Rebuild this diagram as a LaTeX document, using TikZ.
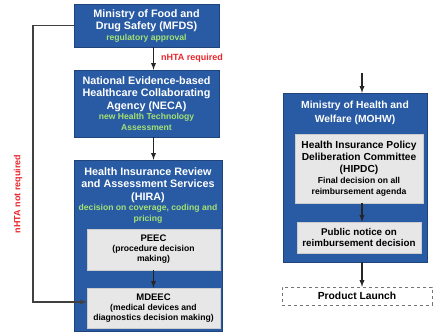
\documentclass[tikz,border=0pt]{standalone}
\usepackage{fontspec}
\setmainfont{Liberation Sans}
\usepackage{tikz}
\usepackage{color}
\definecolor{boxblue}{RGB}{40,91,164}
\definecolor{boxgray}{RGB}{231,231,231}
\definecolor{subgreen}{RGB}{165,225,115}
\definecolor{htared}{RGB}{232,38,44}
\newcommand{\subtxt}[1]{\textcolor{subgreen}{\fontsize{8.6}{11}\selectfont #1}}
\newcommand{\smalltxt}[1]{{\fontsize{8.6}{10}\selectfont #1}}

\begin{document}
\begin{tikzpicture}[x=1pt,y=-1pt,
  agency/.style={draw=boxblue!75!black, fill=boxblue, text=white, align=center, inner sep=0pt,
    font=\bfseries\fontsize{10.8}{12.5}\selectfont},
  panel/.style={draw=white!80!black, fill=boxgray, text=black, align=center, inner sep=0pt,
    font=\bfseries\fontsize{10.2}{12}\selectfont},
  flow/.style={->, >=latex, line width=1.3pt, black!85}]
\useasboundingbox (0,0) rectangle (435,335);
%% left column
\node[agency, minimum width=145, minimum height=43] (mfds) at (146.5,25.5)
  {Ministry of Food and\\Drug Safety (MFDS)\\[-2pt]\subtxt{regulatory approval}};
\node[agency, minimum width=145, minimum height=67] (neca) at (146.5,103.5)
  {National Evidence-based\\Healthcare Collaborating\\Agency (NECA)\\[-2pt]%
   \subtxt{new Health Technology}\\[-2pt]\subtxt{Assessment}};
\node[agency, minimum width=148, minimum height=171] (hira) at (148,245.5) {};
\node[agency, draw=none] (hiratitle) at (148,195)
  {Health Insurance Review\\and Assessment Services\\(HIRA)\\[-2pt]%
   \subtxt{decision on coverage, coding and}\\[-2pt]\subtxt{pricing}};
\node[panel, minimum width=133, minimum height=41, font=\bfseries\fontsize{9.5}{10}\selectfont] (peec) at (153.5,249.5)
  {PEEC\\\smalltxt{(procedure decision}\\\smalltxt{making)}};
\node[panel, minimum width=133, minimum height=40, font=\bfseries\fontsize{9.5}{10}\selectfont] (mdeec) at (153.5,308)
  {MDEEC\\\smalltxt{(medical devices and}\\\smalltxt{diagnostics decision making)}};
%% right column
\node[agency, minimum width=144, minimum height=169] (mohw) at (355,177.5) {};
\node[agency, draw=none, font=\bfseries\fontsize{10.3}{14}\selectfont] (mohwtitle) at (355,112.5)
  {Ministry of Health and\\Welfare (MOHW)};
\node[panel, minimum width=128, minimum height=69] (hipdc) at (359,168.5)
  {Health Insurance Policy\\Deliberation Committee\\(HIPDC)\\[-1pt]\smalltxt{Final decision on all}\\[-1pt]\smalltxt{reimbursement agenda}};
\node[panel, minimum width=124, minimum height=31, font=\bfseries\fontsize{9.8}{10.5}\selectfont] (notice) at (359,237.5)
  {Public notice on\\reimbursement decision};
\node[draw=black!55, dashed, fill=white, minimum width=150, minimum height=18, inner sep=0pt,
  font=\bfseries\fontsize{10.3}{11}\selectfont] (launch) at (357,296) {Product Launch};
\coordinate (entry) at (362,73);
\coordinate (turn) at (33,302);
%% arrows
\draw[flow] (mfds.south -| peec) -- (neca.north -| peec);
\draw[flow] (neca.south -| peec) -- (hira.north -| peec);
\draw[flow] (peec) -- (mdeec);
\draw[flow] (entry) -- (entry |- mohw.north);
\draw[flow] (hipdc.south -| entry) -- (notice.north -| entry);
\draw[flow] (mohw.south -| entry) -- (launch.north -| entry);
\draw[->, >=latex, line width=1.2pt, black!75] (mfds.west) -| (turn) -- (turn -| mdeec.west);
%% labels
\node[htared, font=\bfseries\fontsize{9}{10}\selectfont] (req) at (192,58) {nHTA required};
\node[htared, rotate=90, font=\bfseries\fontsize{9}{10}\selectfont] (notreq) at (18,194) {nHTA not required};
\end{tikzpicture}
\end{document}
